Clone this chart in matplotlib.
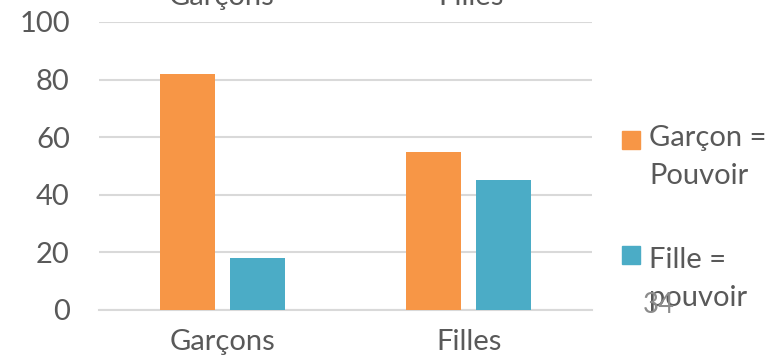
import matplotlib.pyplot as plt
from matplotlib.patches import Rectangle
import numpy as np

categories = ["Garçons", "Filles"]
garcon_pouvoir = [82, 55]
fille_pouvoir = [18, 45]
series_labels = ["Garçon =\nPouvoir", "Fille =\npouvoir"]

orange = "#F79646"
teal = "#4BACC6"
txt = "#595959"

plt.rcParams['font.family'] = ['Lato', 'DejaVu Sans']

fig = plt.figure(figsize=(7.78, 3.56), dpi=100)
ax = fig.add_axes([99/778, 46/356, 493/778, 288/356])

x = np.arange(len(categories))
w = 0.223
b1 = ax.bar(x - 0.142, garcon_pouvoir, w, color=orange, zorder=3)
b2 = ax.bar(x + 0.142, fille_pouvoir, w, color=teal, zorder=3)

ax.set_xlim(-0.5, 1.5)
ax.set_ylim(0, 100)
ax.set_yticks(range(0, 101, 20))
ax.set_xticks(x)
ax.set_xticklabels(categories)
ax.tick_params(axis='both', length=0, labelsize=21, labelcolor=txt)
ax.tick_params(axis='y', pad=21)
ax.tick_params(axis='x', pad=14)
ax.grid(axis='y', color="#D9D9D9", linewidth=1.5, zorder=0)
for s in ['left', 'right', 'top']:
    ax.spines[s].set_visible(False)
ax.spines['bottom'].set_color("#D9D9D9")
ax.spines['bottom'].set_linewidth(1.5)

# cut-off category labels from the chart above
for cx, name in zip([222, 471], categories):
    fig.text(cx/778, 1 - 5/356, name, ha='center', va='baseline',
             fontsize=21, color=txt)

# legend, drawn by hand so the square sits on the first line
for (bars, label, ytop) in [(b1, series_labels[0], 131), (b2, series_labels[1], 246)]:
    fig.add_artist(Rectangle((622/778, 1 - (ytop + 18)/356), 18/778, 18/356,
                             transform=fig.transFigure,
                             color=bars.patches[0].get_facecolor()))
    top = ytop - 6 if bars is b1 else ytop + 1
    fig.text(649/778, 1 - top/356, label, ha='left', va='top',
             fontsize=21, color=txt, linespacing=1.55)

fig.text(643/778, 1 - 313/356, "34", ha='left', va='baseline',
         fontsize=20, color="#8C8C8C")

fig.savefig("out.png", dpi=100)
